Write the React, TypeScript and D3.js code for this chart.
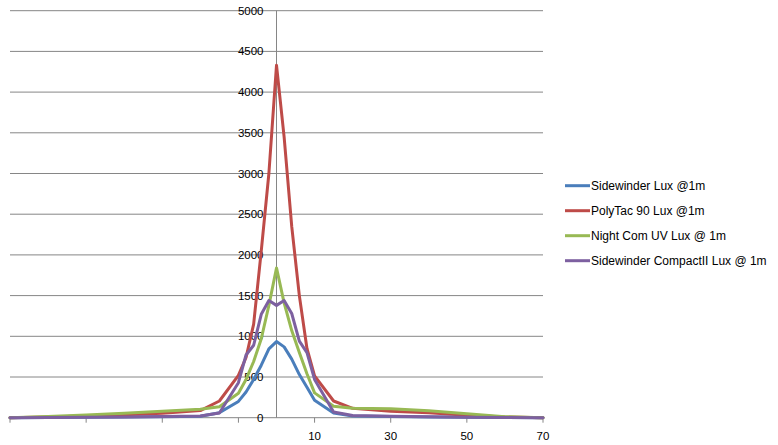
import React from "react";
import * as d3 from "d3";

const xValues = [-70, -60, -50, -40, -30, -20, -15, -10, -8, -6, -4, -2, 0, 2, 4, 6, 8, 10, 15, 20, 30, 40, 50, 60, 70];

const sidewinderLux = [0, 2, 5, 8, 12, 18, 62, 200, 315, 470, 645, 845, 935, 870, 720, 530, 375, 215, 58, 22, 15, 10, 5, 2, 0];
const polyTac90 = [0, 8, 20, 35, 55, 88, 205, 520, 740, 1150, 2050, 3000, 4330, 3450, 2350, 1500, 850, 515, 205, 115, 78, 60, 30, 8, 0];
const nightComUV = [0, 15, 33, 55, 80, 105, 135, 300, 470, 690, 970, 1380, 1840, 1410, 1070, 800, 540, 305, 140, 115, 110, 85, 50, 12, 0];
const sidewinderCompactII = [0, 3, 6, 10, 14, 22, 58, 430, 770, 890, 1270, 1440, 1380, 1440, 1280, 940, 800, 470, 70, 28, 18, 12, 6, 2, 0];

const seriesNames = ["Sidewinder Lux @1m", "PolyTac 90 Lux @1m", "Night Com UV Lux @ 1m", "Sidewinder CompactII Lux @ 1m"];
const seriesColors = ["#4A7EBB", "#BE4B48", "#98B954", "#7D60A0"];
const seriesValues = [sidewinderLux, polyTac90, nightComUV, sidewinderCompactII];

const yTicks = [0, 500, 1000, 1500, 2000, 2500, 3000, 3500, 4000, 4500, 5000];
const xTicks = [-70, -50, -30, -10, 10, 30, 50, 70];
const xTickLabels = ["", "", "", "", "10", "30", "50", "70"];

export default function App() {
  const W = 778, H = 445;
  const x = d3.scaleLinear().domain([-70, 70]).range([10, 543]);
  const y = d3.scaleLinear().domain([0, 5000]).range([417.7, 10.7]);
  const line = d3
    .line<number>()
    .x((_, i) => x(xValues[i]))
    .y((d) => y(d));
  const font = "'Liberation Sans', Arial, sans-serif";
  const grid = "#868686";
  const x0 = x(0);
  return (
    <svg width={W} height={H} style={{ position: "absolute", left: 0, top: 0, background: "#fff" }}>
      <rect width={W} height={H} fill="#fff" />
      {yTicks.map((t) => (
        <g key={t}>
          <line x1={x(-70)} x2={x(70)} y1={y(t)} y2={y(t)} stroke={grid} strokeWidth={1} />
          <text x={x0 - 13} y={y(t)} dy="0.35em" textAnchor="end" fontFamily={font} fontSize={11.5} fill="#000">
            {t}
          </text>
        </g>
      ))}
      <line x1={x0} x2={x0} y1={y(5000)} y2={y(0)} stroke={grid} strokeWidth={1} />
      {xTicks.map((t, i) => (
        <g key={t}>
          <line x1={x(t)} x2={x(t)} y1={y(0)} y2={y(0) + 5} stroke={grid} strokeWidth={1} />
          <text x={x(t)} y={439.5} textAnchor="middle" fontFamily={font} fontSize={11.5} fill="#000">
            {xTickLabels[i]}
          </text>
        </g>
      ))}
      {seriesValues.map((vals, i) => (
        <path
          key={i}
          d={line(vals) || ""}
          fill="none"
          stroke={seriesColors[i]}
          strokeWidth={3}
          strokeLinejoin="round"
          strokeLinecap="round"
        />
      ))}
      {seriesNames.map((n, i) => (
        <g key={n} transform={`translate(565, ${185.7 + i * 25})`}>
          <line x1={0} x2={25} y1={0} y2={0} stroke={seriesColors[i]} strokeWidth={3} />
          <text x={26} y={0} dy="0.35em" fontFamily={font} fontSize={12} fill="#000">
            {n}
          </text>
        </g>
      ))}
    </svg>
  );
}
